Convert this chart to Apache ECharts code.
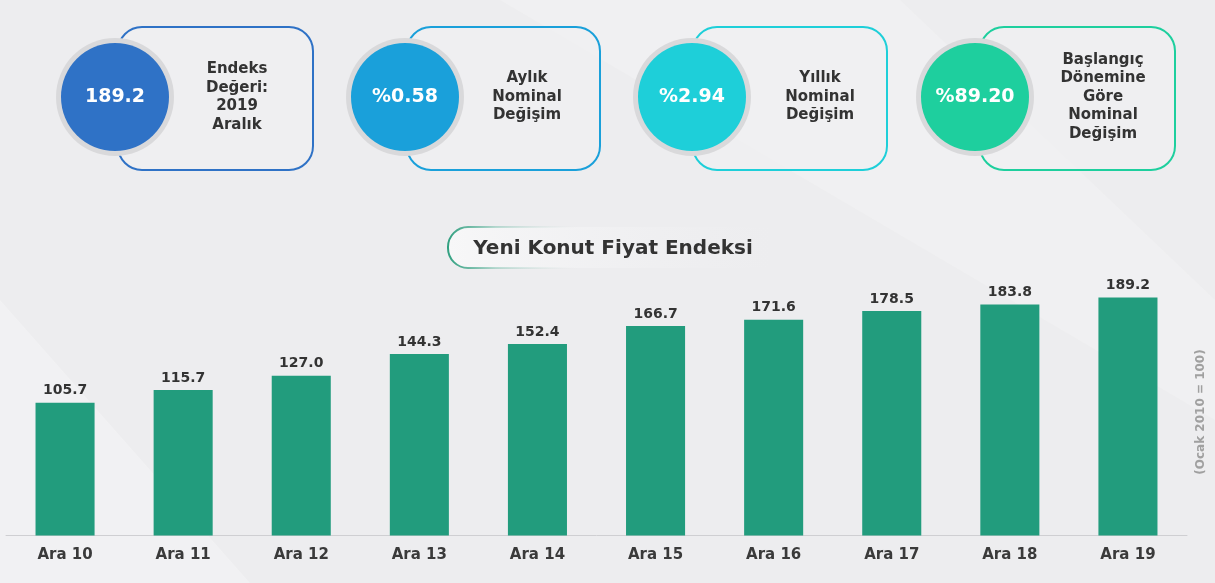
<!DOCTYPE html>
<html><head><meta charset="utf-8">
<script src="https://cdn.jsdelivr.net/npm/echarts@6/dist/echarts.min.js"></script>
<style>html,body{margin:0;padding:0;background:#ededef;}#c{width:1215px;height:583px;}</style>
</head><body><div id="c"></div>
<script>
const categories = ['Ara 10','Ara 11','Ara 12','Ara 13','Ara 14','Ara 15','Ara 16','Ara 17','Ara 18','Ara 19'];
const values = [105.7,115.7,127.0,144.3,152.4,166.7,171.6,178.5,183.8,189.2];
const cardValues = ['189.2','%0.58','%2.94','%89.20'];
const cardTexts = ['Endeks\nDeğeri:\n2019\nAralık','Aylık\nNominal\nDeğişim','Yıllık\nNominal\nDeğişim','Başlangıç\nDönemine\nGöre\nNominal\nDeğişim'];
const cardColors = ['#2f72c6','#1aa0da','#1ecfd9','#1ecf9e'];
const chartTitle = 'Yeni Konut Fiyat Endeksi';
const unitNote = '(Ocak 2010 = 100)';

const FONT = '"DejaVu Sans", Verdana, sans-serif';
const cardGeo = [
  {cx:115, rx:118, rw:195, tx:237},
  {cx:405, rx:407, rw:193, tx:527},
  {cx:692, rx:693, rw:194, tx:820},
  {cx:975, rx:980, rw:195, tx:1103}
];
function txt(x, y, text, size, color, extra) {
  return {type:'text', z:4, style:Object.assign({x:x, y:y, text:text, fill:color,
    fontFamily:FONT, fontWeight:'bold', fontSize:size, align:'center', verticalAlign:'middle'}, extra || {})};
}
const graphics = [];
graphics.push({type:'polygon', z:-10, silent:true, shape:{points:[[0,300],[0,583],[250,583]]}, style:{fill:'rgba(255,255,255,0.25)'}});
graphics.push({type:'polygon', z:-10, silent:true, shape:{points:[[500,0],[900,0],[1215,300],[1215,420]]}, style:{fill:'rgba(255,255,255,0.18)'}});
cardGeo.forEach((g,i)=>{
  graphics.push({type:'rect', z:1, shape:{x:g.rx, y:27, width:g.rw, height:143, r:24}, style:{fill:'rgba(240,240,242,0.6)', stroke:cardColors[i], lineWidth:2}});
  graphics.push({type:'circle', z:2, shape:{cx:g.cx, cy:97, r:59}, style:{fill:'#d9d9db'}});
  graphics.push({type:'circle', z:3, shape:{cx:g.cx, cy:97, r:54}, style:{fill:cardColors[i]}});
  graphics.push(txt(g.cx, 97, cardValues[i], 19, '#ffffff'));
  graphics.push(txt(g.tx, 97, cardTexts[i], 15, '#333333', {lineHeight:18.6}));
});
graphics.push({type:'rect', z:1, shape:{x:448, y:227, width:330, height:41, r:[20,0,0,20]},
  style:{fill:{type:'linear',x:0,y:0,x2:1,y2:0,colorStops:[{offset:0,color:'#f7f7f8'},{offset:1,color:'rgba(240,240,242,0)'}]}}});
graphics.push({type:'rect', z:2, shape:{x:448, y:227, width:330, height:41, r:[20,0,0,20]},
  style:{fill:'none', lineWidth:2, stroke:{type:'linear',x:0,y:0,x2:1,y2:0,colorStops:[{offset:0,color:'#2a9d7c'},{offset:0.15,color:'rgba(42,157,124,0.3)'},{offset:0.4,color:'rgba(220,220,222,0)'},{offset:1,color:'rgba(220,220,222,0)'}]}}});
graphics.push(txt(613, 249, chartTitle, 20, '#333333'));
graphics.push(Object.assign(txt(0, 0, unitNote, 12, '#a0a0a0'), {rotation:Math.PI/2, x:1201, y:412}));

const chart = echarts.init(document.getElementById('c'));
chart.setOption({
  backgroundColor:'#ededef',
  animation:false,
  grid:{left:6, right:28, top:284, bottom:47.4},
  xAxis:{type:'category', data:categories,
    axisLine:{lineStyle:{color:'#cfcfd2', width:1}}, axisTick:{show:false},
    axisLabel:{color:'#3a3a3a', fontFamily:FONT, fontWeight:'bold', fontSize:15, margin:12}},
  yAxis:{type:'value', min:0, max:200, show:false, splitLine:{show:false}},
  series:[{type:'bar', data:values, barWidth:'50%', itemStyle:{color:'#229c7d'},
    label:{show:true, position:'top', distance:5, formatter:p=>p.value.toFixed(1), color:'#333333', fontFamily:FONT, fontWeight:'bold', fontSize:14}}],
  graphic:graphics
});
</script></body></html>
